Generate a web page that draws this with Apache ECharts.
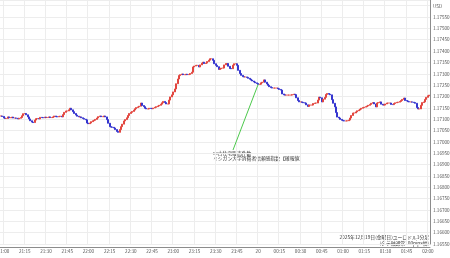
<!DOCTYPE html>
<html>
<head>
<meta charset="utf-8">
<script src="https://cdn.jsdelivr.net/npm/echarts@6/dist/echarts.min.js"></script>
<style>html,body{margin:0;padding:0;background:#fff}#c{width:450px;height:258px}</style>
</head>
<body>
<div id="c"></div>
<script>
// 1-minute EUR/USD closes, first bar 20:58
const startTime = '20:58';
const closes = [
1.17114,1.17112,1.17105,1.17103,1.17103,1.17110,1.17106,1.17107,1.17109,1.17105,
1.17105,1.17104,1.17101,1.17104,1.17107,1.17115,1.17124,1.17125,1.17119,1.17110,
1.17101,1.17093,1.17087,1.17085,1.17096,1.17102,1.17103,1.17101,1.17108,1.17107,
1.17106,1.17109,1.17107,1.17107,1.17110,1.17107,1.17107,1.17110,1.17114,1.17111,
1.17110,1.17112,1.17113,1.17110,1.17120,1.17130,1.17136,1.17136,1.17141,1.17148,
1.17141,1.17133,1.17125,1.17118,1.17113,1.17110,1.17110,1.17106,1.17103,1.17100,
1.17097,1.17083,1.17080,1.17083,1.17089,1.17093,1.17095,1.17099,1.17105,1.17111,
1.17114,1.17111,1.17111,1.17114,1.17110,1.17098,1.17082,1.17067,1.17065,1.17064,
1.17061,1.17054,1.17046,1.17042,1.17054,1.17067,1.17078,1.17092,1.17098,1.17106,
1.17116,1.17125,1.17130,1.17134,1.17140,1.17146,1.17151,1.17154,1.17157,1.17171,
1.17160,1.17155,1.17148,1.17145,1.17145,1.17148,1.17147,1.17146,1.17149,1.17152,
1.17155,1.17158,1.17161,1.17166,1.17172,1.17178,1.17173,1.17167,1.17167,1.17184,
1.17198,1.17207,1.17220,1.17233,1.17256,1.17277,1.17292,1.17296,1.17299,1.17296,
1.17296,1.17298,1.17296,1.17297,1.17301,1.17307,1.17330,1.17334,1.17337,1.17337,
1.17330,1.17339,1.17347,1.17351,1.17345,1.17347,1.17354,1.17360,1.17366,1.17366,
1.17359,1.17344,1.17337,1.17331,1.17319,1.17322,1.17325,1.17325,1.17339,1.17345,
1.17345,1.17333,1.17323,1.17322,1.17338,1.17344,1.17344,1.17337,1.17315,1.17301,
1.17293,1.17287,1.17286,1.17286,1.17284,1.17280,1.17276,1.17272,1.17268,1.17264,
1.17260,1.17257,1.17253,1.17254,1.17260,1.17263,1.17273,1.17263,1.17255,1.17249,
1.17243,1.17239,1.17237,1.17237,1.17237,1.17237,1.17234,1.17231,1.17228,1.17211,
1.17207,1.17206,1.17206,1.17206,1.17206,1.17206,1.17208,1.17210,1.17208,1.17194,
1.17182,1.17176,1.17176,1.17174,1.17172,1.17171,1.17163,1.17156,1.17162,1.17162,
1.17162,1.17169,1.17171,1.17171,1.17184,1.17197,1.17194,1.17176,1.17188,1.17196,
1.17209,1.17213,1.17210,1.17207,1.17186,1.17170,1.17154,1.17129,1.17109,1.17105,
1.17099,1.17095,1.17093,1.17092,1.17092,1.17093,1.17096,1.17105,1.17116,1.17127,
1.17127,1.17132,1.17137,1.17140,1.17144,1.17148,1.17151,1.17153,1.17155,1.17158,
1.17161,1.17165,1.17170,1.17173,1.17167,1.17154,1.17171,1.17173,1.17176,1.17166,
1.17162,1.17162,1.17167,1.17171,1.17171,1.17171,1.17165,1.17164,1.17169,1.17172,
1.17174,1.17175,1.17178,1.17182,1.17187,1.17193,1.17182,1.17180,1.17177,1.17176,
1.17176,1.17175,1.17173,1.17170,1.17151,1.17145,1.17145,1.17161,1.17173,1.17176,
1.17187,1.17196,1.17203,1.17206
];
const eventTime = '00:00';
const eventText = ['中古住宅販売件数', 'ミシガン大学消費者信頼感指数【確報値】'];
const titleText = ['2025年12月19日(金曜日)ユーロドル1分足', '(タテ軸通常100pips幅)'];
const yMin = 1.1655, yInterval = 0.0005, yMaxLabel = 1.1755;

// build categories (minutes)
const [sh, sm] = startTime.split(':').map(Number);
const categories = closes.map((_, i) => {
  const m = (sh * 60 + sm + i) % 1440;
  return String(Math.floor(m / 60)).padStart(2, '0') + ':' + String(m % 60).padStart(2, '0');
});
const candles = closes.map((c, i) => {
  const o = i === 0 ? c : closes[i - 1];
  return [o, c, Math.min(o, c), Math.max(o, c)];
});
const evIdx = categories.indexOf(eventTime);
const isQuarter = (idx) => Number(categories[idx].slice(3)) % 15 === 0;

const FONT = '"Noto Sans CJK JP", "Noto Sans", sans-serif';
const chart = echarts.init(document.getElementById('c'), null, {renderer: 'canvas'});
chart.setOption({
  animation: false,
  backgroundColor: '#ffffff',
  grid: {left: 0, right: 20, top: 0, bottom: 14, containLabel: false, outerBoundsMode: 'none'},
  xAxis: {
    type: 'category',
    data: categories,
    offset: 3,
    axisLine: {show: true, lineStyle: {color: '#8c8c8c', width: 1}},
    axisTick: {show: false},
    axisLabel: {
      interval: (idx) => isQuarter(idx),
      formatter: (v) => v === '00:00' ? '20' : v,
      fontSize: 4.6, color: '#555', margin: 2, fontFamily: FONT, hideOverlap: false
    },
    splitLine: {show: true, interval: (idx) => isQuarter(idx), lineStyle: {color: '#ededed', width: 1}}
  },
  yAxis: {
    type: 'value',
    position: 'right',
    scale: true,
    min: yMin,
    max: yMin + 0.010749,
    interval: yInterval,
    axisLine: {show: true, lineStyle: {color: '#8c8c8c', width: 1}},
    axisTick: {show: false},
    axisLabel: {
      formatter: (v) => (v > yMaxLabel + 0.00001 || v < yMin - 0.00001) ? '' : v.toFixed(5),
      fontSize: 4.6, color: '#555', margin: 3, fontFamily: FONT
    },
    splitLine: {show: true, lineStyle: {color: '#ededed', width: 1}}
  },
  series: [{
    type: 'candlestick',
    data: candles,
    barWidth: 1.5,
    itemStyle: {
      color: '#e2463f', color0: '#3535cf',
      borderColor: '#e2463f', borderColor0: '#3535cf', borderWidth: 1
    },
    markLine: {
      silent: true,
      symbol: ['none', 'none'],
      label: {show: false},
      lineStyle: {color: '#4cc94c', width: 1, type: 'solid'},
      data: [[{coord: [evIdx, closes[evIdx]]}, {x: 233, y: 150}]]
    }
  }],
  graphic: [
    {type: 'text', x: 433, y: 6, style: {text: 'USD', fill: '#555', font: '4.6px ' + FONT, textAlign: 'left', textVerticalAlign: 'middle', align: 'left', verticalAlign: 'middle'}},
    {type: 'text', x: 213, y: 153, style: {text: eventText[0], fill: '#333', font: '4.8px ' + FONT, textAlign: 'left', textVerticalAlign: 'middle', align: 'left', verticalAlign: 'middle'}},
    {type: 'text', x: 213, y: 158, style: {text: eventText[1], fill: '#333', font: '4.8px ' + FONT, textAlign: 'left', textVerticalAlign: 'middle', align: 'left', verticalAlign: 'middle'}},
    {type: 'text', x: 429, y: 237, style: {text: titleText[0], fill: '#333', font: '4.8px ' + FONT, textAlign: 'right', textVerticalAlign: 'middle', align: 'right', verticalAlign: 'middle'}},
    {type: 'text', x: 429, y: 243, style: {text: titleText[1], fill: '#333', font: '4.8px ' + FONT, textAlign: 'right', textVerticalAlign: 'middle', align: 'right', verticalAlign: 'middle'}}
  ]
});
</script>
</body>
</html>
